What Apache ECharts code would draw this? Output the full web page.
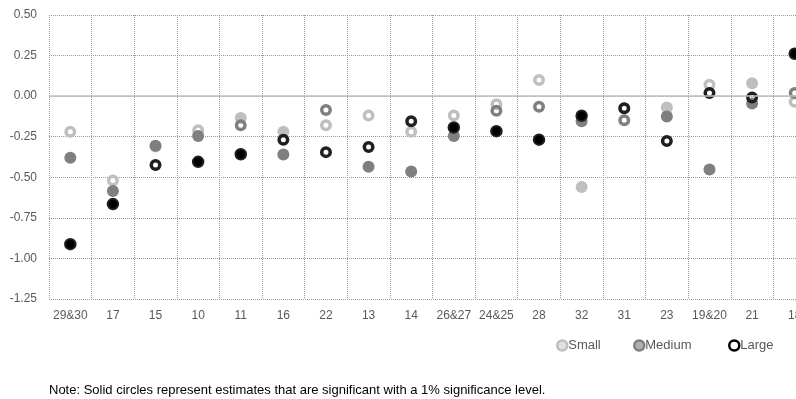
<!DOCTYPE html>
<html>
<head>
<meta charset="utf-8">
<script src="https://cdn.jsdelivr.net/npm/echarts@6/dist/echarts.min.js"></script>
<style>
html,body{margin:0;padding:0;background:#fff;overflow:hidden;width:796px;height:399px;}
#chart{width:816px;height:399px;}
</style>
</head>
<body>
<div id="chart"></div>
<script>
const categories = ['29&30','17','15','10','11','16','22','13','14','26&27','24&25','28','32','31','23','19&20','21','18'];
const smallValues  = [-0.22,-0.52,-0.31,-0.21,-0.135,-0.22,-0.18,-0.12,-0.22,-0.12,-0.05,0.10,-0.56,-0.075,-0.07,0.07,0.08,-0.035];
const smallSig     = [0,0,0,0,1,1,0,0,0,0,0,0,1,0,1,0,1,0];
const mediumValues = [-0.38,-0.585,-0.305,-0.245,-0.18,-0.36,-0.085,-0.435,-0.465,-0.245,-0.09,-0.065,-0.155,-0.148,-0.125,-0.452,-0.045,0.02];
const mediumSig    = [1,1,1,1,0,1,0,1,1,1,0,0,1,0,1,1,1,0];
const largeValues  = [-0.912,-0.665,-0.424,-0.405,-0.358,-0.268,-0.345,-0.313,-0.154,-0.193,-0.216,-0.268,-0.121,-0.074,-0.277,0.019,-0.008,0.261];
const largeSig     = [1,1,0,1,1,0,0,0,0,1,1,1,1,0,0,0,0,1];
const yTicks = [-1.25,-1.00,-0.75,-0.50,-0.25,0.00,0.25,0.50];
const noteText = 'Note: Solid circles represent estimates that are significant with a 1% significance level.';

const FONT = 'Liberation Sans';
const colors = {Small:'#bfbfbf', Medium:'#7f7f7f', Large:'#1a1a1a'};

function buildData(vals, sig, color, solidFill) {
  return vals.map((v, i) => sig[i]
    ? {value: v, symbolSize: solidFill ? 10.5 : 12, itemStyle: {opacity: 1, color: solidFill || color, borderColor: color, borderWidth: solidFill ? 2 : 0}}
    : {value: v, symbolSize: 8.5, itemStyle: {opacity: 1, color: 'transparent', borderColor: color, borderWidth: 3.5}});
}

function legendAt(left, name, fill, border) {
  return {
    left: left, top: 334,
    itemWidth: 10, itemHeight: 10,
    textStyle: {color: '#595959', fontSize: 13, fontFamily: FONT, padding: [0, 0, 0, -4]},
    data: [{name: name, icon: 'circle', itemStyle: {opacity: 1, color: fill, borderColor: border, borderWidth: 2.5}}]
  };
}

const chart = echarts.init(document.getElementById('chart'), null, {renderer: 'canvas'});
chart.setOption({
  animation: false,
  textStyle: {fontFamily: FONT},
  grid: {left: 49, top: 15, right: 0, height: 284, containLabel: false},
  xAxis: {
    type: 'category',
    data: categories,
    boundaryGap: true,
    axisLine: {show: false},
    axisTick: {show: false},
    axisLabel: {color: '#595959', fontSize: 12, margin: 11, interval: 0, fontFamily: FONT},
    splitLine: {show: true, interval: 0, lineStyle: {color: '#999999', type: [1, 1], width: 1}}
  },
  yAxis: {
    type: 'value',
    min: yTicks[0],
    max: yTicks[yTicks.length - 1],
    interval: 0.25,
    axisLine: {show: false},
    axisTick: {show: false},
    axisLabel: {color: '#595959', fontSize: 12, margin: 12, fontFamily: FONT, formatter: v => v.toFixed(2)},
    splitLine: {show: true, lineStyle: {color: '#999999', type: [1, 1], width: 1}}
  },
  legend: [
    legendAt(551, 'Small', '#e0e0e0', colors.Small),
    legendAt(628, 'Medium', '#b0b0b0', colors.Medium),
    legendAt(723, 'Large', '#ffffff', '#000')
  ],
  graphic: [{
    type: 'text', left: 49, top: 384,
    style: {text: noteText, fill: '#000', font: '13px "' + FONT + '"'}
  }],
  series: [
    {
      name: 'Small', type: 'scatter', symbol: 'circle',
      itemStyle: {color: colors.Small, opacity: 1},
      data: buildData(smallValues, smallSig, colors.Small),
      markLine: {silent: true, symbol: 'none', label: {show: false},
        lineStyle: {color: '#bfbfbf', type: 'solid', width: 1.5},
        data: [{yAxis: 0}]}
    },
    {
      name: 'Medium', type: 'scatter', symbol: 'circle',
      itemStyle: {color: colors.Medium, opacity: 1},
      data: buildData(mediumValues, mediumSig, colors.Medium)
    },
    {
      name: 'Large', type: 'scatter', symbol: 'circle',
      itemStyle: {color: colors.Large, opacity: 1},
      data: buildData(largeValues, largeSig, '#1f1f1f', '#000')
    }
  ]
});
</script>
</body>
</html>
